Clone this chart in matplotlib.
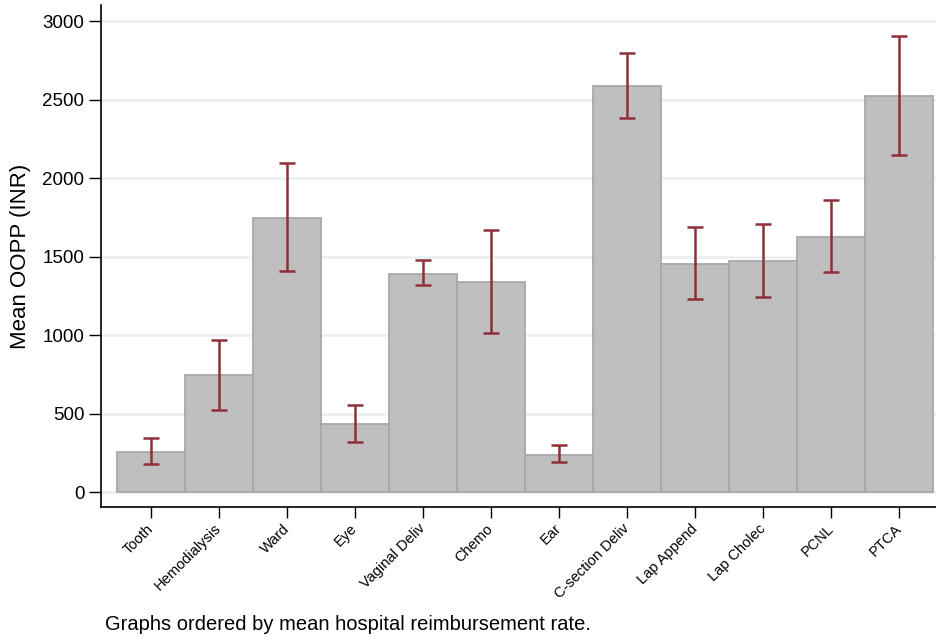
import numpy as np
import matplotlib
matplotlib.use("Agg")
import matplotlib.pyplot as plt

plt.rcParams['font.family'] = ['Liberation Sans', 'DejaVu Sans']

# --- data ---
categories = ["Tooth", "Hemodialysis", "Ward", "Eye", "Vaginal Deliv", "Chemo",
              "Ear", "C-section Deliv", "Lap Append", "Lap Cholec", "PCNL", "PTCA"]
mean_oopp = [257, 743, 1747, 433, 1391, 1338, 236, 2586, 1454, 1471, 1626, 2522]
ci_low = [178, 522, 1406, 321, 1318, 1015, 191, 2384, 1231, 1242, 1403, 2148]
ci_high = [342, 970, 2098, 552, 1476, 1669, 299, 2796, 1688, 1709, 1860, 2906]

x = np.arange(len(categories))
mean_arr = np.array(mean_oopp)
yerr = np.vstack([mean_arr - np.array(ci_low), np.array(ci_high) - mean_arr])

fig = plt.figure(figsize=(9.36, 6.4), dpi=100)
ax = fig.add_axes([101/936, 133/640, 1 - 101/936, 502/640])

ax.bar(x, mean_arr, width=1.0, color="#bfbfbf", edgecolor="#a8a8a8",
       linewidth=1.3, zorder=2)
ax.errorbar(x, mean_arr, yerr=yerr, fmt="none", ecolor="#8f3039",
            elinewidth=1.8, capsize=6, capthick=1.8, zorder=3)

ax.set_xlim(-0.735, 11.54)
ax.set_ylim(-95, 3102)
ax.set_yticks([0, 500, 1000, 1500, 2000, 2500, 3000])
ax.yaxis.grid(True, color="#eaf1f3", linewidth=2, zorder=0)
ax.set_axisbelow(True)

ax.set_xticks(x)
ax.set_xticklabels(categories, rotation=45, ha="right", va="center",
                   rotation_mode="anchor", fontsize=10.5)
ax.tick_params(axis="x", length=8, width=1, pad=6)
ax.tick_params(axis="y", length=9, width=1, labelsize=13.5, pad=3)

for side in ["top", "right"]:
    ax.spines[side].set_visible(False)
for side in ["left", "bottom"]:
    ax.spines[side].set_linewidth(1.2)

ax.set_ylabel("Mean OOPP (INR)", fontsize=16, labelpad=8)

fig.text(105/936, 1 - 625/640, "Graphs ordered by mean hospital reimbursement rate.",
         fontsize=14.5, ha="left", va="center")

fig.savefig("out.png", dpi=100)
